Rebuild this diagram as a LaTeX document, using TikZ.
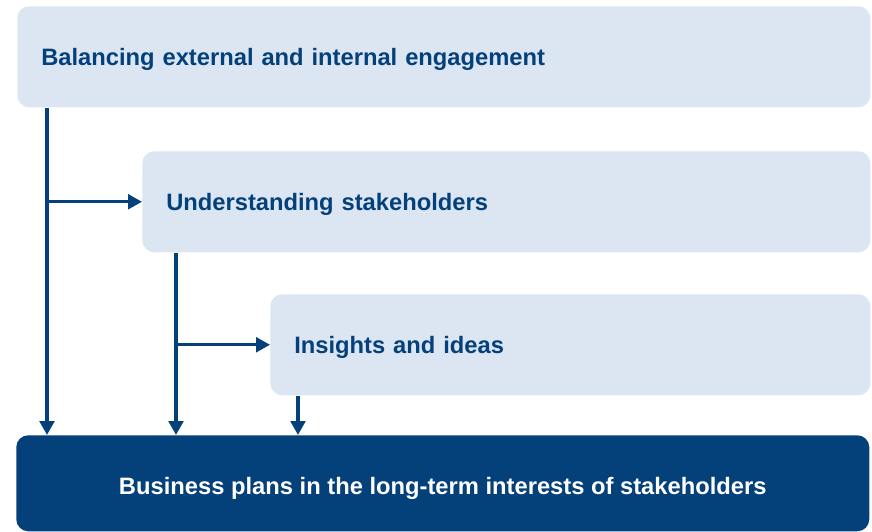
\documentclass[tikz,border=0pt]{standalone}
\usepackage{fontspec}
\setmainfont{Liberation Sans}
\usetikzlibrary{arrows.meta, positioning}
\definecolor{paleblue}{HTML}{DCE6F2}
\definecolor{navy}{HTML}{04407A}
\tikzset{
    stage/.style={rectangle, rounded corners=9pt, fill=paleblue, draw=none,
        text=navy, font=\bfseries\fontsize{17.8}{21}\selectfont,
        minimum height=75.75pt, inner xsep=18pt, anchor=north west, align=left,
        text depth=0pt},
    outcome/.style={rectangle, rounded corners=9pt, fill=navy, draw=none,
        text=white, font=\bfseries\fontsize{17.8}{21}\selectfont,
        minimum width=639.75pt, minimum height=72pt, anchor=north west,
        text height=17pt, text depth=0pt},
    flow/.style={draw=navy, line width=2.4pt, -{Triangle[width=11pt,length=10.5pt]}}
}

\begin{document}
\begin{tikzpicture}[x=0.75pt, y=-0.75pt]
        \useasboundingbox (0,0) rectangle (872,532);

        \node[stage, minimum width=639.75pt, text width=603.75pt] (engage) at (17,6) {Balancing external and internal engagement};
        \node[stage, minimum width=546pt, text width=510pt] (stake) at (142,151) {Understanding stakeholders};
        \node[stage, minimum width=450pt, text width=414pt] (ideas) at (270,294) {Insights and ideas};
        \node[outcome] (plans) at (16,435) {Business plans in the long-term interests of stakeholders};

        \coordinate (trunkA) at (47,0);
        \coordinate (trunkB) at (176,0);
        \coordinate (trunkC) at (298,0);

        \draw[flow] (engage.south -| trunkA) -- (plans.north -| trunkA);
        \draw[flow] (stake.west -| trunkA) -- (stake.west);
        \draw[flow] (stake.south -| trunkB) -- (plans.north -| trunkB);
        \draw[flow] (ideas.west -| trunkB) -- (ideas.west);
        \draw[flow] (ideas.south -| trunkC) -- (plans.north -| trunkC);
    \end{tikzpicture}
\end{document}
